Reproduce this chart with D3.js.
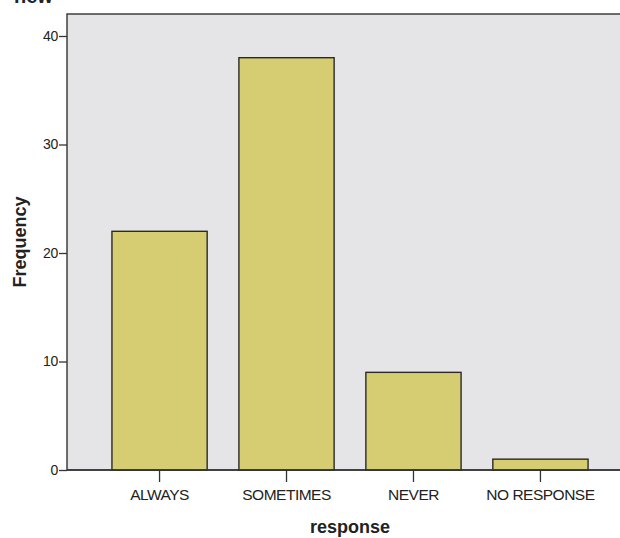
<!DOCTYPE html>
<html><head><meta charset="utf-8">
<script src="https://cdn.jsdelivr.net/npm/d3@7"></script>
<style>body{margin:0;background:#fff}svg{display:block}</style>
</head><body>
<script>
const categories = ["ALWAYS", "SOMETIMES", "NEVER", "NO RESPONSE"];
const frequencies = [22, 38, 9, 1];
const yTicks = [0, 10, 20, 30, 40];
const titleText = "new";
const xTitle = "response";
const yTitle = "Frequency";

const W = 620, H = 538;
const svg = d3.select("body").append("svg").attr("width", W).attr("height", H);
const mLeft = 67, mTop = 14, mBottom = 470, mRight = 633;

const x = d3.scaleBand().domain(categories).range([mLeft, mRight]).paddingInner(0.25).paddingOuter(0.354);
const y = d3.scaleLinear().domain([0, 40]).range([mBottom, 36]);

svg.append("rect").attr("x", mLeft).attr("y", mTop).attr("width", mRight - mLeft).attr("height", mBottom - mTop)
  .attr("fill", "#e5e5e7").attr("stroke", "#333").attr("stroke-width", 1.4);

const font = "Arial, 'Liberation Sans', sans-serif";

svg.append("text").attr("x", 14).attr("y", 3).attr("font-family", font)
  .attr("font-size", 20).attr("font-weight", "bold").attr("fill", "#222").text(titleText);

svg.selectAll("rect.bar").data(frequencies).enter().append("rect").attr("class", "bar")
  .attr("x", (d, i) => x(categories[i])).attr("width", x.bandwidth())
  .attr("y", d => y(d)).attr("height", d => mBottom - y(d))
  .attr("fill", "#d6cd72").attr("stroke", "#2a2a2a").attr("stroke-width", 1.4);

const ya = svg.append("g").attr("transform", `translate(${mLeft},0)`)
  .call(d3.axisLeft(y).tickValues(yTicks).tickSize(8).tickPadding(1).tickFormat(d3.format("d")));
ya.select(".domain").remove();
ya.selectAll("line").attr("stroke", "#333").attr("stroke-width", 1.3);
ya.selectAll("text").attr("font-family", font).attr("font-size", 14).attr("letter-spacing", -0.3).attr("fill", "#222");

const xa = svg.append("g").attr("transform", `translate(0,${mBottom})`)
  .call(d3.axisBottom(x).tickSize(12).tickPadding(7));
xa.select(".domain").remove();
xa.selectAll("line").attr("stroke", "#333").attr("stroke-width", 1.3);
xa.selectAll("text").attr("font-family", font).attr("font-size", 15.5).attr("letter-spacing", -0.5).attr("fill", "#222");

svg.append("line").attr("x1", mLeft).attr("x2", mRight).attr("y1", mBottom).attr("y2", mBottom).attr("stroke", "#333").attr("stroke-width", 1.4);

svg.append("text").attr("x", 350).attr("y", 533).attr("text-anchor", "middle")
  .attr("font-family", font).attr("font-size", 18).attr("font-weight", "bold").attr("fill", "#222").text(xTitle);
svg.append("text").attr("transform", "translate(26,242) rotate(-90)").attr("text-anchor", "middle")
  .attr("font-family", font).attr("font-size", 18).attr("font-weight", "bold").attr("fill", "#222").text(yTitle);
</script>
</body></html>
